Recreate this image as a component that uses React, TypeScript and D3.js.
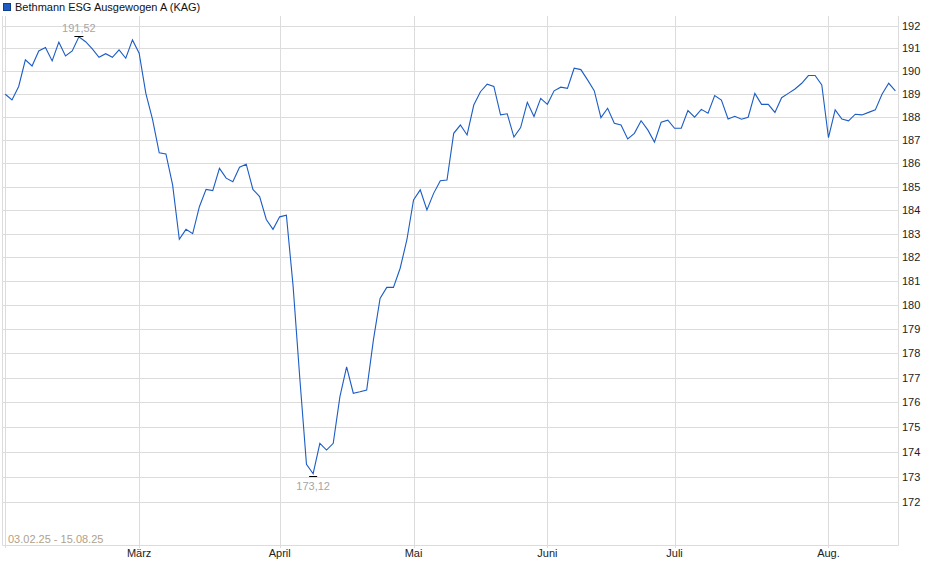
import { useEffect, useRef } from 'react';
import * as d3 from 'd3';

// Daily prices, 03.02.25 - 15.08.25 (one value per trading day)
const prices = [
  188.99, 188.74, 189.33, 190.5, 190.23, 190.89, 191.04, 190.45, 191.28, 190.67,
  190.89, 191.52, 191.3, 190.98, 190.61, 190.77, 190.61, 190.94, 190.57, 191.38,
  190.79, 189.03, 187.9, 186.45, 186.4, 185.07, 182.76, 183.18, 183.0, 184.14,
  184.88, 184.83, 185.78, 185.36, 185.21, 185.83, 185.96, 184.88, 184.57, 183.6,
  183.18, 183.71, 183.78, 180.8, 177.0, 173.5, 173.12, 174.34, 174.07, 174.34,
  176.23, 177.45, 176.37, 176.43, 176.5, 178.55, 180.28, 180.74, 180.74, 181.54,
  182.73, 184.43, 184.86, 184.0, 184.71, 185.25, 185.28, 187.29, 187.65, 187.22,
  188.52, 189.1, 189.43, 189.33, 188.09, 188.14, 187.13, 187.54, 188.64, 188.02,
  188.81, 188.55, 189.14, 189.3, 189.25, 190.13, 190.07, 189.62, 189.15, 187.97,
  188.38, 187.73, 187.65, 187.05, 187.29, 187.84, 187.44, 186.91, 187.77, 187.86,
  187.51, 187.51, 188.28, 187.99, 188.33, 188.16, 188.93, 188.74, 187.91, 188.03,
  187.9, 187.99, 189.03, 188.55, 188.55, 188.2, 188.84, 189.03, 189.22, 189.47,
  189.81, 189.81, 189.4, 187.1, 188.31, 187.91, 187.83, 188.12, 188.09, 188.2,
  188.31, 188.99, 189.47, 189.14,
];

// first trading day of each month (index into prices)
const monthStarts = [0, 20, 41, 61, 81, 100, 123];
const monthLabels = ['', 'März', 'April', 'Mai', 'Juni', 'Juli', 'Aug.'];

const yTicks = [172, 173, 174, 175, 176, 177, 178, 179, 180, 181, 182, 183, 184, 185, 186, 187, 188, 189, 190, 191, 192];

const seriesName = 'Bethmann ESG Ausgewogen A (KAG)';
const rangeText = '03.02.25 - 15.08.25';

const FONT = '"Liberation Sans", Arial, sans-serif';
const LINE_COLOR = '#1c5cc4';
const GRID_COLOR = '#dcdcdc';

const fmt = (v: number) => v.toFixed(2).replace('.', ',');

export default function App() {
  const svgRef = useRef<SVGSVGElement>(null);

  useEffect(() => {
    if (!svgRef.current) return;
    const svg = d3.select(svgRef.current);
    svg.selectAll('*').remove();

    const left = 2.5;
    const right = 898;
    const top = 16;
    const bottom = 545;

    const x = d3.scaleLinear().domain([0, prices.length - 1]).range([5.3, 895.4]);
    const y = d3.scaleLog().domain([170.29, 192.44]).range([bottom, top]);
    const crisp = (v: number) => Math.round(v) + 0.5;

    // Legend / title
    svg
      .append('rect')
      .attr('x', 3.5)
      .attr('y', 3.5)
      .attr('width', 7)
      .attr('height', 7)
      .attr('fill', LINE_COLOR)
      .attr('stroke', '#123f8a');
    svg
      .append('text')
      .attr('x', 15)
      .attr('y', 11)
      .attr('font-family', FONT)
      .attr('font-size', 11)
      .attr('fill', '#111')
      .text(seriesName);

    // Horizontal grid + y labels
    svg
      .selectAll('.grid-y')
      .data(yTicks)
      .enter()
      .append('line')
      .attr('x1', left)
      .attr('x2', right)
      .attr('y1', (d) => crisp(y(d)))
      .attr('y2', (d) => crisp(y(d)))
      .attr('stroke', GRID_COLOR);

    svg
      .selectAll('.ylab')
      .data(yTicks)
      .enter()
      .append('text')
      .attr('x', 902)
      .attr('y', (d) => y(d) + 4)
      .attr('font-family', FONT)
      .attr('font-size', 11)
      .attr('fill', '#222')
      .text((d) => d);

    // Vertical grid (month starts) + labels
    svg
      .selectAll('.grid-x')
      .data(monthStarts)
      .enter()
      .append('line')
      .attr('x1', (d) => crisp(x(d)))
      .attr('x2', (d) => crisp(x(d)))
      .attr('y1', top)
      .attr('y2', bottom + 3)
      .attr('stroke', GRID_COLOR);

    svg
      .selectAll('.xlab')
      .data(monthStarts)
      .enter()
      .append('text')
      .attr('x', (d) => x(d))
      .attr('y', 556.5)
      .attr('text-anchor', 'middle')
      .attr('font-family', FONT)
      .attr('font-size', 11)
      .attr('fill', '#222')
      .text((_, i) => monthLabels[i]);

    // Frame
    svg
      .append('path')
      .attr('d', `M${left},${top}V${bottom + 0.5}H${right + 0.5}V${top}`)
      .attr('fill', 'none')
      .attr('stroke', GRID_COLOR);

    // Price line
    const line = d3
      .line<number>()
      .x((_, i) => x(i))
      .y((d) => y(d));
    svg
      .append('path')
      .datum(prices)
      .attr('d', line)
      .attr('fill', 'none')
      .attr('stroke', LINE_COLOR)
      .attr('stroke-width', 1.1);

    // High / low markers
    const hiIdx = d3.maxIndex(prices);
    const loIdx = d3.minIndex(prices);
    const hx = x(hiIdx);
    const hy = y(prices[hiIdx]);
    const lx = x(loIdx);
    const ly = y(prices[loIdx]);

    svg
      .append('line')
      .attr('x1', hx - 4.5)
      .attr('x2', hx + 4.5)
      .attr('y1', Math.round(hy) - 0.5)
      .attr('y2', Math.round(hy) - 0.5)
      .attr('stroke', '#000');
    svg
      .append('text')
      .attr('x', hx)
      .attr('y', hy - 5)
      .attr('text-anchor', 'middle')
      .attr('font-family', FONT)
      .attr('font-size', 11)
      .attr('fill', '#a6a6a6')
      .text(fmt(prices[hiIdx]));

    svg
      .append('line')
      .attr('x1', lx - 4)
      .attr('x2', lx + 4)
      .attr('y1', Math.round(ly) + 2.5)
      .attr('y2', Math.round(ly) + 2.5)
      .attr('stroke', '#000');
    svg
      .append('text')
      .attr('x', lx)
      .attr('y', ly + 16)
      .attr('text-anchor', 'middle')
      .attr('font-family', FONT)
      .attr('font-size', 11)
      .attr('fill', '#a6a6a6')
      .text(fmt(prices[loIdx]));

    // Period label
    svg
      .append('text')
      .attr('x', 8)
      .attr('y', 543)
      .attr('font-family', FONT)
      .attr('font-size', 11)
      .attr('fill', '#b0a189')
      .text(rangeText);
  }, []);

  return (
    <svg
      ref={svgRef}
      width={940}
      height={579}
      style={{ position: 'absolute', left: 0, top: 0, background: '#fff' }}
    />
  );
}
